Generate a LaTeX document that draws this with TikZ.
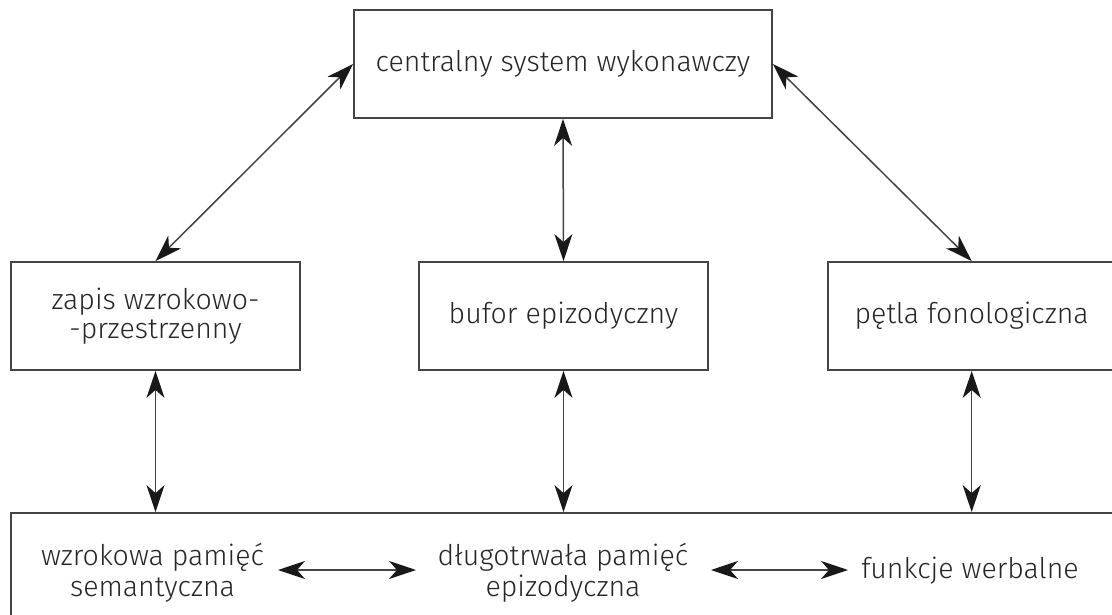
\documentclass[tikz,border=0pt]{standalone}
\usepackage{fontspec}
\setmainfont{Fira Sans Light}
\usetikzlibrary{arrows.meta}
\definecolor{linegray}{HTML}{444444}
\definecolor{textgray}{HTML}{262626}
\tikzset{
  box/.style={draw=linegray, line width=1.8pt, minimum width=#1, minimum height=108pt, inner sep=0pt, align=center, text=textgray, font=\fontsize{28.5}{29}\selectfont},
  box/.default=289pt,
  lbl/.style={text=textgray, align=center, inner sep=0pt, font=\fontsize{28.5}{31}\selectfont},
  biarrow/.style={draw=linegray, line width=1.5pt, {Stealth[length=27pt, width=18pt, inset=8pt, color=black!90]}-{Stealth[length=27pt, width=18pt, inset=8pt, color=black!90]}}
}
\begin{document}
\begin{tikzpicture}[x=1pt, y=-1pt]
\clip (0,0) rectangle (1112,615);
\fill[white] (0,0) rectangle (1112,615);
% boxes
\node[box=418pt] (top) at (563,64) {centralny system wykonawczy};
\node[box] (left) at (155.5,316) {zapis wzrokowo-\\-przestrzenny};
\node[box] (mid) at (563.5,316) {bufor epizodyczny};
\node[box=287pt] (right) at (971.7,316) {pętla fonologiczna};
\node[draw=linegray, line width=1.8pt, minimum width=1130pt, minimum height=140pt, inner sep=0pt] (bottom) at (576,583) {};
% bottom texts
\node[lbl] (b1) at (152.5,573) {wzrokowa pamięć\\semantyczna};
\node[lbl] (b2) at (563,573) {długotrwała pamięć\\epizodyczna};
\node[lbl] (b3) at (970,571) {funkcje werbalne};
\coordinate (h1a) at (278,570);
\coordinate (h1b) at (416,570);
\coordinate (h2a) at (711,570);
\coordinate (h2b) at (848,570);
% connectors
\draw[biarrow] (top.west) -- (left.north);
\draw[biarrow] (top.east) -- (right.north);
\draw[biarrow] (top.south) -- (mid.north);
\draw[biarrow] (left.south) -- (left.south |- bottom.north);
\draw[biarrow] (mid.south) -- (mid.south |- bottom.north);
\draw[biarrow] (right.south) -- (right.south |- bottom.north);
\draw[biarrow] (h1a) -- (h1b);
\draw[biarrow] (h2a) -- (h2b);
\end{tikzpicture}
\end{document}
